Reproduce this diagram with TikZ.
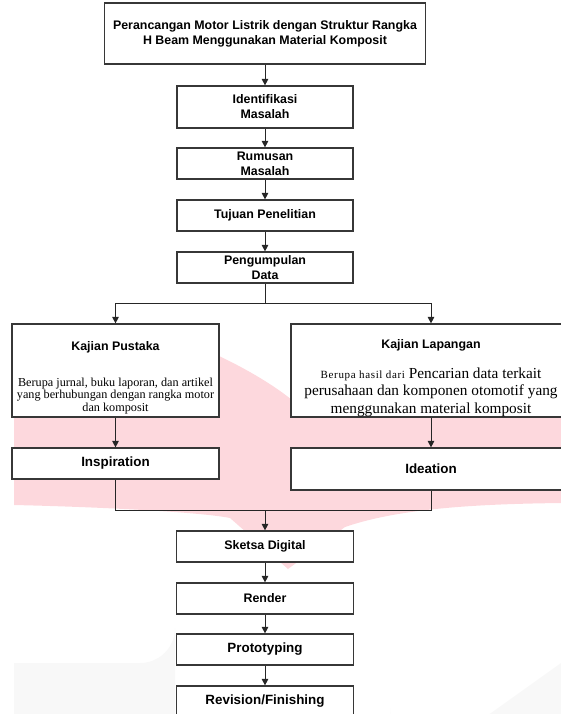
\documentclass[tikz,border=0pt]{standalone}
\usepackage{fontspec}
\setmainfont{Liberation Serif}
\setsansfont{Liberation Sans}
\usetikzlibrary{arrows.meta}
\definecolor{wmpink}{RGB}{253,216,221}
\definecolor{wmgray}{RGB}{248,248,248}
\definecolor{boxline}{RGB}{55,55,55}
\tikzset{
  box/.style={draw=boxline, line width=1.2pt, fill=white, inner sep=0pt, align=center,
              font=\sffamily\bfseries\fontsize{12.4}{15}\selectfont},
  bigbox/.style={box, font=\sffamily\bfseries\fontsize{13.4}{16}\selectfont},
  ttl/.style={inner sep=0pt, font=\sffamily\bfseries\fontsize{12.4}{15}\selectfont},
  desc/.style={inner sep=0pt, align=center, font=\rmfamily\fontsize{12.2}{12.5}\selectfont},
  descb/.style={inner sep=0pt, align=center, font=\rmfamily\fontsize{15.3}{17.5}\selectfont},
  arr/.style={draw=black!85, line width=1pt, -{Triangle[width=6.5pt,length=6.5pt]}},
  ln/.style={draw=black!85, line width=1pt},
}
\begin{document}
\begin{tikzpicture}[x=1pt,y=-1pt]
\useasboundingbox (0,0) rectangle (561,714);
\clip (0,0) rectangle (561,714);
% watermark shapes
\fill[wmpink] (14,330) -- (150,330) .. controls (190,340) and (255,370) .. (292,400)
  -- (561,400) -- (561,503) .. controls (480,504) and (400,508) .. (345,527)
  -- (288,569) -- (230,518) .. controls (200,512) and (100,507) .. (14,505) -- cycle;
\fill[wmgray] (14,714) -- (14,663) -- (140,663) arc[start angle=90,end angle=0,radius=35] -- (175,714) -- cycle;
\fill[wmgray] (390,714) -- (390,708) arc[start angle=180,end angle=90,radius=45] -- (561,663) -- (561,714) -- cycle;
% boxes
\node[box, minimum width=321pt, minimum height=61pt] (title) at (265,33.5)
  {Perancangan Motor Listrik dengan Struktur Rangka\\H Beam Menggunakan Material Komposit};
\node[box, minimum width=176pt, minimum height=42pt] (ident) at (265,107) {Identifikasi\\Masalah};
\node[box, minimum width=176pt, minimum height=31pt] (rumus) at (265,163.5) {Rumusan\\Masalah};
\node[box, minimum width=176pt, minimum height=31pt] (tujuan) at (265,215.5) {Tujuan Penelitian};
\node[box, minimum width=176pt, minimum height=31pt] (kumpul) at (265,267.5) {Pengumpulan\\Data};
\node[box, minimum width=207pt, minimum height=93pt] (kp) at (115.5,370.5) {};
\node[ttl] (kpt) at (115.5,347) {Kajian Pustaka};
\node[desc] (kpd) at (115.5,396) {Berupa jurnal, buku laporan, dan artikel\\yang berhubungan dengan rangka motor\\dan komposit};
\node[box, minimum width=280pt, minimum height=93pt] (kl) at (431,370.5) {};
\node[ttl] (klt) at (431,345) {Kajian Lapangan};
\node[descb] (kld) at (431,392) {{\fontsize{11}{11}\selectfont\addfontfeature{LetterSpace=6}Berupa hasil dari} Pencarian data terkait\\perusahaan dan komponen otomotif yang\\menggunakan material komposit};
\node[bigbox, minimum width=207pt, minimum height=31pt] (insp) at (115.5,463.5) {Inspiration};
\node[bigbox, minimum width=280pt, minimum height=42pt] (idea) at (431,469) {Ideation};
\node[box, minimum width=177pt, minimum height=31pt] (sketsa) at (265,546.5) {Sketsa Digital};
\node[box, minimum width=177pt, minimum height=31pt] (render) at (265,598.5) {Render};
\node[bigbox, minimum width=177pt, minimum height=31pt] (proto) at (265,649.5) {Prototyping};
\node[bigbox, minimum width=177pt, minimum height=31pt] (rev) at (265,701.5) {Revision/Finishing};
% connectors
\draw[arr] (title) -- (ident);
\draw[arr] (ident) -- (rumus);
\draw[arr] (rumus) -- (tujuan);
\draw[arr] (tujuan) -- (kumpul);
\coordinate (split) at (265,303);
\draw[ln] (kumpul) -- (split);
\draw[arr] (split) -| (kp.north);
\draw[arr] (split) -| (kl.north);
\draw[arr] (kp) -- (insp);
\draw[arr] (kl) -- (idea);
\coordinate (merge) at (265,510);
\draw[ln] (insp.south) |- (merge);
\draw[ln] (idea.south) |- (merge);
\draw[arr] (merge) -- (sketsa);
\draw[arr] (sketsa) -- (render);
\draw[arr] (render) -- (proto);
\draw[arr] (proto) -- (rev);
\end{tikzpicture}
\end{document}
